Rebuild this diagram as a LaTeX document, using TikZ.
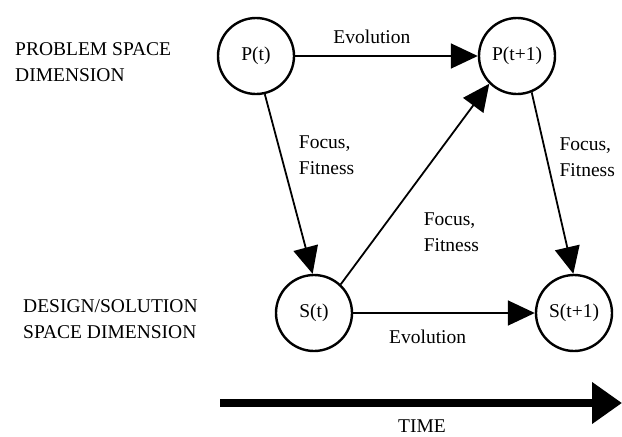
\documentclass[tikz,border=0pt]{standalone}
\usepackage{fontspec}
\setmainfont{Liberation Serif}
\usetikzlibrary{arrows.meta}

\begin{document}
\begin{tikzpicture}[x=1pt, y=-1pt, font=\fontsize{19.5}{26}\selectfont,
    main/.style={circle, draw, line width=2.4pt, minimum size=76pt, inner sep=0pt},
    flow/.style={-{Triangle[length=27pt,width=25pt]}, line width=1.8pt},
    edge/.style={inner sep=0pt, align=left},
    dim/.style={inner sep=0pt, align=left, anchor=west},
    timeline/.style={-{Triangle[length=30pt,width=40pt]}, line width=8pt}]

    \useasboundingbox (0,0) rectangle (622,437);

    \node[main] (pt) at (256,56) {P(t)};
    \node[main] (pt1) at (517,56) {P(t+1)};
    \node[main] (st) at (314,313) {S(t)};
    \node[main] (st1) at (574,313) {S(t+1)};

    \node[dim] (prob) at (15,62) {PROBLEM SPACE\\DIMENSION};
    \node[dim] (design) at (23,319) {DESIGN/SOLUTION\\SPACE DIMENSION};

    \path[flow]
        (pt) edge node[edge, pos=0.42, above=11pt] {Evolution} (pt1)
        (pt.-77) edge node[edge, pos=0.34, right=17pt] {Focus,\\Fitness} (st.92)
        (st.47) edge node[edge, pos=0.26, right=43.5pt] {Focus,\\Fitness} (pt1.225)
        (pt1.-68) edge node[edge, pos=0.36, right=12pt] {Focus,\\Fitness} (st1.91)
        (st) edge node[edge, pos=0.41, below=16.5pt] {Evolution} (st1)
        ;

    \coordinate (t0) at (220,403);
    \coordinate (t1) at (622,403);
    \draw[timeline] (t0) -- (t1);
    \node[inner sep=0pt] (time) at (422,426.5) {TIME};
\end{tikzpicture}
\end{document}
